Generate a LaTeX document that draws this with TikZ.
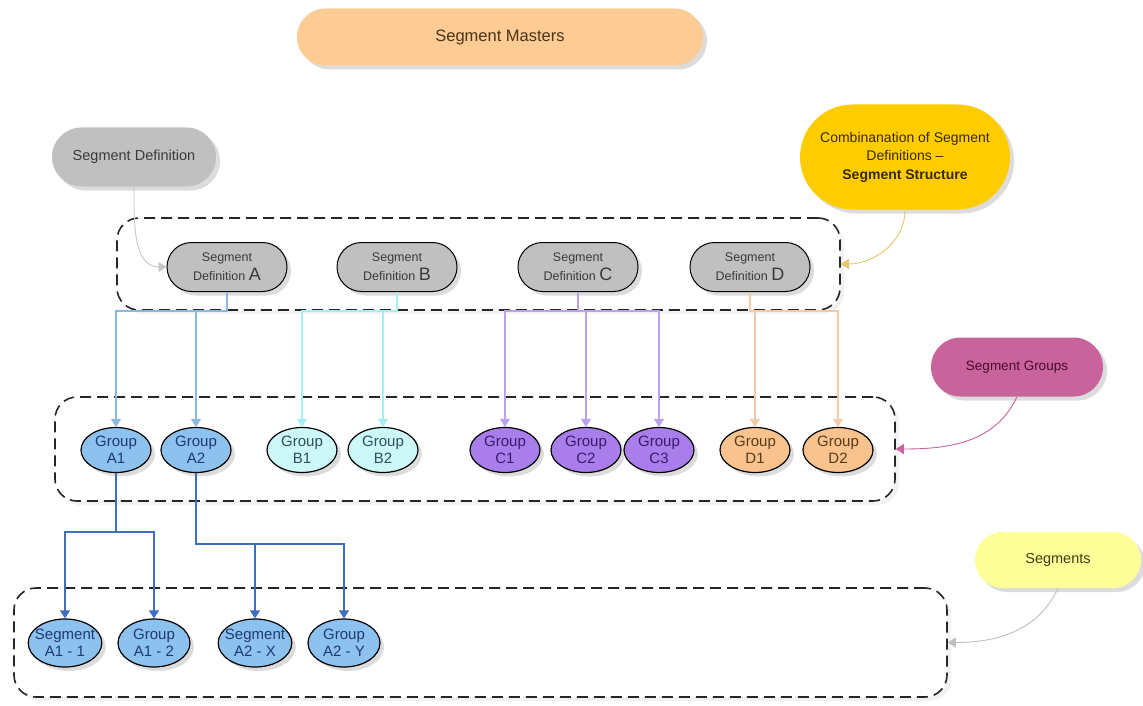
\documentclass[tikz,border=0pt]{standalone}
\usepackage{fontspec}
\setmainfont{Liberation Sans}
\usetikzlibrary{shapes.geometric, shapes.misc, arrows.meta, shadows}
\usepackage{xcolor}
\definecolor{masterFill}{HTML}{FDCB94}
\definecolor{masterText}{HTML}{4A3418}
\definecolor{defnFill}{HTML}{C0C0C0}
\definecolor{defnText}{HTML}{3A3A3A}
\definecolor{structFill}{HTML}{FFCC00}
\definecolor{structText}{HTML}{3A2A00}
\definecolor{groupsFill}{HTML}{C9639B}
\definecolor{groupsText}{HTML}{4A0A35}
\definecolor{segsFill}{HTML}{FFFF99}
\definecolor{segsText}{HTML}{3D3D10}
\definecolor{grpAFill}{HTML}{8DC1EE}
\definecolor{grpAText}{HTML}{1D3B70}
\definecolor{grpBFill}{HTML}{CCF8F8}
\definecolor{grpBText}{HTML}{2F4F5F}
\definecolor{grpCFill}{HTML}{A97EEA}
\definecolor{grpCText}{HTML}{3B1A6E}
\definecolor{grpDFill}{HTML}{F8C38E}
\definecolor{grpDText}{HTML}{5A3A18}
\definecolor{linkA}{HTML}{8DB6E3}
\definecolor{linkB}{HTML}{A6EEF0}
\definecolor{linkC}{HTML}{B9A3EE}
\definecolor{linkD}{HTML}{EFCBA8}
\definecolor{linkSeg}{HTML}{3F6DBF}
\tikzset{
    SoftShadow/.style={drop shadow={shadow xshift=4pt, shadow yshift=-4pt, fill=black!30, opacity=0.45}},
    PillNote/.style={rounded rectangle, inner sep=2pt, align=center, SoftShadow},
    LevelBox/.style={rectangle, draw=black!85, fill=white, line width=1.6pt, dash pattern=on 11pt off 6pt,
        rounded corners=22pt, inner sep=0pt, drop shadow={shadow xshift=4pt, shadow yshift=-4pt, fill=black!10}},
    DefnNode/.style={rounded rectangle, draw=black, line width=1pt, fill=defnFill, text=defnText,
        minimum width=122pt, minimum height=49pt, inner sep=1pt, align=center,
        font=\fontsize{12.5}{19}\selectfont, SoftShadow},
    GrpNode/.style={ellipse, draw=black, line width=1.2pt, inner xsep=-4pt, inner ysep=-1.5pt,
        minimum width=70pt, minimum height=45pt, align=center, font=\fontsize{15}{17.5}\selectfont, SoftShadow},
    GroupA/.style={GrpNode, fill=grpAFill, text=grpAText},
    GroupB/.style={GrpNode, fill=grpBFill, text=grpBText},
    GroupC/.style={GrpNode, fill=grpCFill, text=grpCText},
    GroupD/.style={GrpNode, fill=grpDFill, text=grpDText},
    SegNode/.style={GroupA, minimum width=72pt, minimum height=48pt},
    TipArrow/.style={-{Triangle[width=10pt, length=8pt]}},
    LinkLine/.style={TipArrow, line width=1.3pt},
    NoteArrow/.style={TipArrow, line width=0.9pt}
}
\begin{document}
\begin{tikzpicture}[x=1pt, y=1pt]
    \useasboundingbox (0,0) rectangle (1143,-706);

    % dashed levels
    \node[LevelBox, minimum width=723pt, minimum height=92pt] (defBox) at (478.5,-264) {};
    \node[LevelBox, minimum width=840pt, minimum height=104pt] (grpBox) at (475,-449) {};
    \node[LevelBox, minimum width=933pt, minimum height=109pt] (segBox) at (480.5,-642.5) {};

    % notes
    \node[PillNote, fill=masterFill, text=masterText, minimum width=410pt, minimum height=57pt,
        font=\fontsize{16.5}{19}\selectfont] (master) at (500,-37) {Segment Masters};
    \node[PillNote, fill=defnFill, text=defnText, minimum width=168pt, minimum height=59pt,
        font=\fontsize{14.5}{17}\selectfont] (defnNote) at (134,-157) {Segment Definition};
    \node[PillNote, fill=structFill, text=structText, minimum width=214pt, minimum height=105pt,
        font=\fontsize{14}{18.5}\selectfont] (structNote) at (905,-157)
        {Combinanation of Segment\\Definitions --\\\textbf{Segment Structure}};
    \node[PillNote, fill=groupsFill, text=groupsText, minimum width=176pt, minimum height=59pt,
        font=\fontsize{13.5}{16}\selectfont] (groupsNote) at (1017,-367) {Segment Groups};
    \node[PillNote, fill=segsFill, text=segsText, minimum width=170pt, minimum height=56pt,
        font=\fontsize{14.5}{17}\selectfont] (segsNote) at (1058,-560) {Segments};

    % segment definitions
    \foreach \d/\x in {A/227, B/397, C/578, D/750} {
        \node[DefnNode] (defn\d) at (\x,-267) {Segment\\Definition {\fontsize{18}{18}\selectfont \d}};
        \coordinate (bus\d) at (\x,-311);
    }

    % segment groups
    \foreach \g/\x/\s in {A1/116/GroupA, A2/196/GroupA, B1/302/GroupB, B2/383/GroupB,
        C1/505/GroupC, C2/586/GroupC, C3/659/GroupC, D1/755/GroupD, D2/838/GroupD} {
        \node[\s] (grp\g) at (\x,-450) {Group\\\g};
    }

    % segments
    \foreach \n/\x/\top/\bot in {segA11/65/Segment/A1 - 1, segA12/154/Group/A1 - 2,
        segA2X/255/Segment/A2 - X, segA2Y/344/Group/A2 - Y} {
        \node[SegNode] (\n) at (\x,-643) {\top\\\bot};
    }

    % definition -> group links
    \foreach \g in {A1, A2} \draw[LinkLine, linkA] (defnA.south) -- (busA) -| (grp\g.north);
    \foreach \g in {B1, B2} \draw[LinkLine, linkB] (defnB.south) -- (busB) -| (grp\g.north);
    \foreach \g in {C1, C2, C3} \draw[LinkLine, linkC] (defnC.south) -- (busC) -| (grp\g.north);
    \foreach \g in {D1, D2} \draw[LinkLine, linkD] (defnD.south) -- (busD) -| (grp\g.north);

    % group -> segment links
    \coordinate (busA1) at (116,-532);
    \coordinate (busA2) at (196,-544);
    \foreach \n in {segA11, segA12} \draw[LinkLine, linkSeg, line width=1.5pt] (grpA1.south) -- (busA1) -| (\n.north);
    \foreach \n in {segA2X, segA2Y} \draw[LinkLine, linkSeg, line width=1.5pt] (grpA2.south) -- (busA2) -| (\n.north);

    % note arrows
    \draw[NoteArrow, black!22] (defnNote.south) to[out=-90, in=180] (defnA.west);
    \draw[NoteArrow, structFill!80!black!60!white] (structNote.south) to[out=-90, in=0] (defBox.east);
    \draw[NoteArrow, groupsFill] (groupsNote.south) to[out=-115, in=0] (grpBox.east);
    \draw[NoteArrow, black!25] (segsNote.south) to[out=-115, in=0] (segBox.east);
\end{tikzpicture}
\end{document}
